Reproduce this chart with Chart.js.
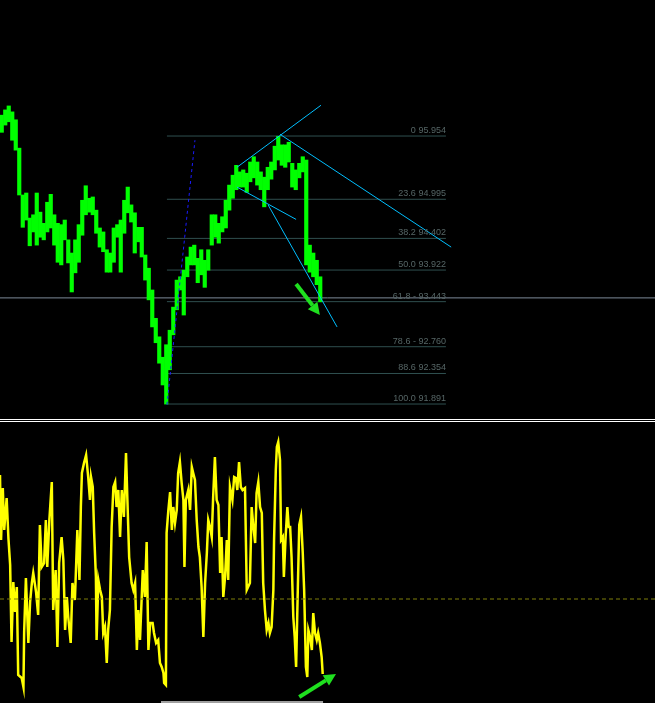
<!DOCTYPE html>
<html>
<head>
<meta charset="utf-8">
<script src="https://cdn.jsdelivr.net/npm/chart.js@4.4.1/dist/chart.umd.min.js"></script>
<style>
  body { margin: 0; background: #000; }
  canvas { display: block; }
  .sep { height: 1px; background: #fff; }
  .gap { height: 1px; background: #000; }
</style>
</head>
<body>
<canvas id="priceChart" width="655" height="419"></canvas>
<div class="sep"></div><div class="gap"></div><div class="sep"></div>
<canvas id="oscChart" width="655" height="281"></canvas>
<script>
// price bars (high / low), one per bar index
const priceHigh = [
  96.27, 96.35, 96.41, 96.32, 96.20, 95.77, 95.06, 95.09, 94.71, 94.76,
  95.09, 94.80, 94.63, 94.95, 95.07, 94.76, 94.63, 94.61, 94.68, 94.38,
  94.18, 94.38, 94.61, 94.98, 95.20, 95.01, 95.03, 94.83, 94.56, 94.50,
  94.23, 94.18, 94.56, 94.61, 94.68, 94.98, 95.18, 94.91, 94.79, 94.57,
  94.57, 94.15, 93.95, 93.62, 93.19, 92.91, 92.60, 92.79, 93.01, 93.36,
  93.77, 93.82, 93.92, 94.12, 94.27, 94.30, 94.10, 94.23, 94.07, 94.23,
  94.76, 94.76, 94.63, 94.73, 94.98, 95.21, 95.36, 95.51, 95.41, 95.44,
  95.39, 95.56, 95.64, 95.56, 95.41, 95.33, 95.48, 95.56, 95.80, 95.95,
  95.82, 95.82, 95.86, 95.54, 95.44, 95.54, 95.64, 95.59, 94.30, 94.18,
  94.07, 93.82
];
const priceLow = [
  96.01, 96.12, 96.17, 95.89, 95.74, 95.06, 94.57, 94.68, 94.29, 94.50,
  94.30, 94.42, 94.38, 94.50, 94.56, 94.30, 94.04, 94.00, 94.38, 94.03,
  93.59, 93.88, 94.04, 94.45, 94.76, 94.80, 94.76, 94.48, 94.27, 94.20,
  93.89, 93.89, 94.04, 94.42, 93.89, 94.48, 94.79, 94.65, 94.18, 94.35,
  94.12, 93.77, 93.47, 93.06, 92.82, 92.51, 92.18, 91.89, 92.41, 92.94,
  93.32, 93.62, 93.24, 93.82, 94.00, 94.00, 93.73, 93.85, 93.66, 93.92,
  94.30, 94.42, 94.33, 94.50, 94.56, 94.83, 95.01, 95.14, 95.18, 95.18,
  95.10, 95.26, 95.32, 95.21, 95.14, 94.88, 95.14, 95.30, 95.44, 95.59,
  95.51, 95.48, 95.56, 95.18, 95.14, 95.32, 95.41, 94.00, 93.89, 93.82,
  93.70, 93.44
];

// fibonacci retracement
const fibLevels = ["0", "23.6", "38.2", "50.0", "61.8 -", "78.6 -", "88.6", "100.0"];
const fibPrices = [95.954, 94.995, 94.402, 93.922, 93.443, 92.760, 92.354, 91.891];
const fibFrom = 47.2;
const fibTo = 126.9;
const fibTrend = [[47.2, 91.88], [55.2, 95.89]];

// other objects on the price window
const hLinePrice = 93.50;
const trendLines = [
  [[67.2, 95.48], [91.2, 96.42]],
  [[79.5, 95.98], [128.4, 94.27]],
  [[67.2, 95.18], [84.1, 94.69]],
  [[76.1, 94.91], [95.8, 93.06]]
];
const downArrow = [[84.1, 93.71], [90.9, 93.24]];

// oscillator (sub window)
const oscTime = [
  -0.5, -0.2, 0.3, 0.7, 1.4, 1.9, 2.4, 2.8, 3.3, 3.8, 4.3, 4.7, 5.7, 6.2, 6.4, 6.9, 7.6, 8.1, 8.6, 9.0,
  9.8, 10.4, 10.9, 11.4, 12.1, 12.6, 13.0, 13.6, 14.3, 14.7, 15.4, 15.9, 16.4, 17.1, 17.6, 18.1, 18.6, 19.0, 19.7, 20.2,
  20.9, 21.6, 22.2, 22.6, 22.9, 23.5, 24.1, 24.7, 25.2, 25.5, 26.0, 26.4, 26.9, 27.1, 27.6, 28.1, 28.6, 29.0, 29.5, 30.0,
  30.4, 30.9, 31.4, 31.9, 32.4, 32.8, 33.3, 33.8, 34.3, 34.9, 35.5, 35.9, 36.4, 37.1, 37.6, 38.1, 38.6, 39.0, 39.5, 40.3,
  40.9, 41.4, 41.9, 42.4, 43.1, 43.5, 44.1, 44.7, 45.2, 45.7, 46.2, 46.4, 46.9, 47.1, 47.6, 48.1, 48.6, 49.0, 49.5, 50.0,
  50.4, 50.9, 51.4, 51.9, 52.2, 52.6, 53.3, 53.8, 54.3, 54.7, 55.2, 55.7, 56.2, 56.6, 57.1, 57.6, 58.1, 58.6, 59.0, 59.5,
  60.0, 60.4, 60.9, 61.4, 61.9, 62.4, 62.8, 63.3, 63.8, 64.3, 64.7, 65.2, 65.9, 66.4, 66.9, 67.3, 67.8, 68.3, 68.8, 69.5,
  70.0, 70.9, 71.4, 71.9, 72.4, 72.8, 73.3, 73.8, 74.3, 74.7, 75.2, 75.7, 76.2, 76.6, 77.1, 77.6, 77.8, 78.3, 78.6, 79.0,
  79.5, 79.8, 80.3, 80.6, 81.1, 81.6, 82.0, 82.4, 82.8, 83.3, 83.7, 84.1, 84.6, 85.0, 85.5, 86.0, 86.4, 86.9, 87.3, 87.6,
  88.1, 88.6, 89.0, 89.5, 90.0, 90.4, 90.9, 91.4, 91.7
];
const oscValue = [
  1.24, 0.59, 1.11, 0.69, 1.01, 0.61, 0.34, -0.43, 0.17, -0.13, 0.12, -0.76, -0.79, -0.88, -0.33, 0.21, -0.44, -0.03, 0.16, 0.26,
  0.07, -0.16, 0.74, 0.32, 0.36, 0.79, 0.32, 0.79, 1.17, -0.11, 0.29, -0.48, 0.36, 0.62, 0.39, -0.31, 0.02, -0.18, -0.44, 0.16,
  -0.01, 0.69, 0.19, 0.92, 1.26, 1.36, 1.44, 1.22, 0.99, 1.22, 1.12, 0.66, 0.22, -0.41, 0.19, 0.09, 0.02, -0.34, -0.28, -0.64,
  -0.31, -0.11, 0.72, 1.12, 1.17, 0.92, 1.09, 0.62, 1.09, 0.82, 1.46, 0.99, 0.42, 0.16, 0.09, 0.16, -0.51, -0.11, -0.41, 0.29,
  0.02, 0.57, -0.51, -0.24, -0.24, -0.34, -0.44, -0.41, -0.64, -0.68, -0.74, -0.84, -0.86, 0.66, 0.89, 1.07, 0.69, 0.92, 0.76, 0.89,
  1.26, 1.37, 1.16, 0.99, 0.32, 0.99, 1.09, 0.89, 1.32, 1.26, 1.19, 0.79, 0.52, 0.42, 0.12, -0.38, 0.16, 0.46, 0.79, 0.72,
  0.62, 1.02, 1.42, 0.99, 0.94, 0.26, 0.62, 0.02, 0.22, 0.59, 0.19, 1.12, 0.99, 1.22, 1.21, 1.09, 1.37, 1.12, 1.09, 1.11,
  0.09, 0.16, 0.92, 0.72, 0.56, 1.06, 1.17, 0.92, 0.86, 0.16, -0.11, -0.31, -0.24, -0.34, -0.28, 0.09, 0.59, 1.29, 1.52, 1.57,
  1.39, 0.59, 0.62, 0.22, 0.62, 0.92, 0.72, 0.72, 0.42, -0.18, -0.38, -0.68, 0.12, 0.74, 0.82, 0.46, 0.09, -0.68, -0.78, -0.31,
  -0.38, -0.51, -0.14, -0.34, -0.41, -0.34, -0.44, -0.58, -0.75
];
const oscLevel = 0;
const upArrow = [[85.0, -0.98], [95.5, -0.75]];
const scrollBar = [45.5, 91.8];

const xMin = -0.5;
const xMax = 186.64;

function seg(a, b) {
  return [{ x: a[0], y: a[1] }, { x: b[0], y: b[1] }];
}

function drawArrow(chart, pts, color) {
  const { ctx, scales: { x, y } } = chart;
  const x0 = x.getPixelForValue(pts[0][0]), y0 = y.getPixelForValue(pts[0][1]);
  const x1 = x.getPixelForValue(pts[1][0]), y1 = y.getPixelForValue(pts[1][1]);
  const a = Math.atan2(y1 - y0, x1 - x0);
  const head = 12, half = 6;
  const bx = x1 - head * Math.cos(a), by = y1 - head * Math.sin(a);
  ctx.save();
  ctx.strokeStyle = color;
  ctx.fillStyle = color;
  ctx.lineWidth = 4;
  ctx.beginPath();
  ctx.moveTo(x0, y0);
  ctx.lineTo(bx, by);
  ctx.stroke();
  ctx.beginPath();
  ctx.moveTo(x1, y1);
  ctx.lineTo(bx + half * Math.sin(a), by - half * Math.cos(a));
  ctx.lineTo(bx - half * Math.sin(a), by + half * Math.cos(a));
  ctx.closePath();
  ctx.fill();
  ctx.restore();
}

// fib labels + arrow on the price window
const priceObjects = {
  id: "priceObjects",
  afterDatasetsDraw(chart) {
    const { ctx, scales: { x, y } } = chart;
    ctx.save();
    ctx.font = "9px 'Liberation Sans', Arial, sans-serif";
    ctx.fillStyle = "#566666";
    ctx.textAlign = "right";
    ctx.textBaseline = "bottom";
    const right = x.getPixelForValue(fibTo);
    fibPrices.forEach((p, i) => {
      ctx.fillText(fibLevels[i] + " " + p.toFixed(3), right, y.getPixelForValue(p) - 1);
    });
    ctx.restore();
    drawArrow(chart, downArrow, "#1fe01f");
  }
};

const oscObjects = {
  id: "oscObjects",
  afterDatasetsDraw(chart) {
    drawArrow(chart, upArrow, "#1fe01f");
  }
};

const fibDatasets = fibPrices.map((p) => ({
  type: "line",
  data: [{ x: fibFrom, y: p }, { x: fibTo, y: p }],
  borderColor: "#2f4f4f",
  borderWidth: 1,
  pointRadius: 0,
  order: 3
}));

const trendDatasets = trendLines.map((l) => ({
  type: "line",
  data: seg(l[0], l[1]),
  borderColor: "#00bfff",
  borderWidth: 1,
  pointRadius: 0,
  order: -1
}));

new Chart(document.getElementById("priceChart"), {
  type: "bar",
  data: {
    datasets: [
      {
        type: "bar",
        label: "Price",
        data: priceLow.map((lo, i) => ({ x: i, y: [lo, priceHigh[i]] })),
        backgroundColor: "#00ff00",
        borderWidth: 0,
        barPercentage: 1,
        categoryPercentage: 1,
        order: 1
      },
      ...fibDatasets,
      {
        type: "line",
        data: [{ x: xMin, y: hLinePrice }, { x: xMax, y: hLinePrice }],
        borderColor: "#7d8a99",
        borderWidth: 1,
        pointRadius: 0,
        order: 2
      },
      {
        type: "line",
        data: seg(fibTrend[0], fibTrend[1]),
        borderColor: "#1a1aff",
        borderWidth: 1,
        borderDash: [3, 3],
        pointRadius: 0,
        order: 0
      },
      ...trendDatasets
    ]
  },
  options: {
    responsive: false,
    animation: false,
    layout: { padding: 0 },
    plugins: { legend: { display: false }, tooltip: { enabled: false } },
    scales: {
      x: { type: "linear", min: xMin, max: xMax, offset: false, display: false },
      y: { min: 91.664, max: 98.016, display: false }
    }
  },
  plugins: [priceObjects]
});

new Chart(document.getElementById("oscChart"), {
  type: "line",
  data: {
    datasets: [
      {
        data: [{ x: xMin, y: oscLevel }, { x: xMax, y: oscLevel }],
        borderColor: "#7f7f0a",
        borderWidth: 1,
        borderDash: [4, 3],
        pointRadius: 0
      },
      {
        label: "Oscillator",
        data: oscTime.map((t, i) => ({ x: t, y: oscValue[i] })),
        borderColor: "#ffff00",
        borderWidth: 2.5,
        pointRadius: 0,
        tension: 0
      },
      {
        data: [{ x: scrollBar[0], y: -1.03 }, { x: scrollBar[1], y: -1.03 }],
        borderColor: "#a0a0a0",
        borderWidth: 2,
        pointRadius: 0
      }
    ]
  },
  options: {
    responsive: false,
    animation: false,
    layout: { padding: 0 },
    plugins: { legend: { display: false }, tooltip: { enabled: false } },
    scales: {
      x: { type: "linear", min: xMin, max: xMax, offset: false, display: false },
      y: { min: -1.04, max: 1.77, display: false }
    }
  },
  plugins: [oscObjects]
});
</script>
</body>
</html>
